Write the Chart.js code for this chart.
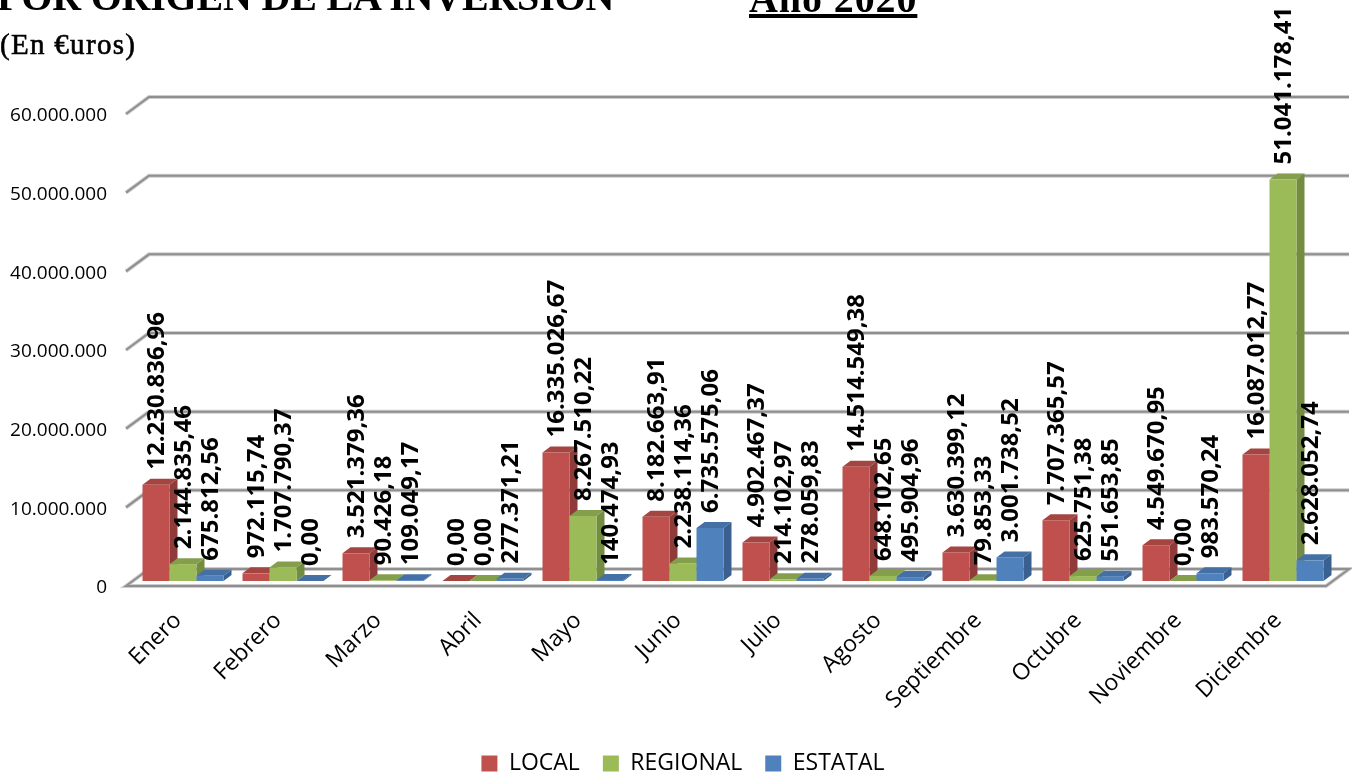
<!DOCTYPE html>
<html><head><meta charset="utf-8">
<style>
html,body{margin:0;padding:0;background:#fff;overflow:hidden;width:1352px;height:777px}
#wrap{position:relative;width:1352px;height:777px}
canvas{position:absolute;left:0;top:0}
.t{position:absolute;font-family:"Liberation Serif",serif;color:#000;white-space:nowrap;font-weight:bold}
</style>
<script src="https://cdn.jsdelivr.net/npm/chart.js@4/dist/chart.umd.min.js"></script>
</head><body>
<div id="wrap">
<canvas id="c" width="1352" height="777"></canvas>
<div class="t" id="t1" style="left:-3px;top:-27px;font-size:40px;letter-spacing:-.2px">POR ORIGEN DE LA INVERSIÓN</div>
<div class="t" id="t2" style="left:749px;top:-25px;font-size:40px;letter-spacing:.9px;text-decoration:underline">Año 2020</div>
<div class="t" id="t3" style="left:0;top:28px;font-size:29px;letter-spacing:1.3px;font-weight:normal;-webkit-text-stroke:.6px #000">(En €uros)</div>
</div>
<script>
const months = ["Enero","Febrero","Marzo","Abril","Mayo","Junio","Julio","Agosto","Septiembre","Octubre","Noviembre","Diciembre"];
const local = [12230836.96,972115.74,3521379.36,0,16335026.67,8182663.91,4902467.37,14514549.38,3630399.12,7707365.57,4549670.95,16087012.77];
const regional = [2144835.46,1707790.37,90426.18,0,8267510.22,2238114.36,214102.97,648102.65,79853.33,625751.38,0,51041178.41];
const estatal = [675812.56,0,109049.17,277371.21,140474.93,6735575.06,278059.83,495904.96,3001738.52,551653.85,983570.24,2628052.74];
const seriesNames = ["LOCAL","REGIONAL","ESTATAL"];
const fronts = ["#C0504D","#9BBB59","#4F81BD"];
const sides = ["#8F3B39","#728C41","#3A6090"];
const tops = ["#A54542","#839F4C","#4470A5"];

const BAR_DX = 8, BAR_DY = 6;
const FRONT_DX = -7, FRONT_DY = 5, BACK_DX = 16, BACK_DY = -12;
const GRID = "#8F8F8F", GRID_SOFT = "#CDCDCD";

function fmtInt(v){ return String(Math.round(v)).replace(/\B(?=(\d{3})+$)/g,"."); }
function fmtVal(v){ const p = v.toFixed(2).split("."); return p[0].replace(/\B(?=(\d{3})+$)/g,".") + "," + p[1]; }

const bars3d = {
  id:"bars3d",
  afterLayout(chart){
    chart.legend.left = 33;
    chart.legend.top = 729;
  },
  beforeDatasetDraw(){ return false; },
  afterDatasetsDraw(chart){
    const {ctx, chartArea:a, scales:{y}} = chart;
    const L=a.left, R=a.right;
    ctx.save();
    [[GRID_SOFT,4],[GRID,2]].forEach(([col,w])=>{
      ctx.lineWidth=w; ctx.strokeStyle=col;
      y.ticks.forEach(t=>{
        const p=y.getPixelForValue(t.value);
        ctx.beginPath();
        ctx.moveTo(L+FRONT_DX,p+FRONT_DY);
        ctx.lineTo(L+BACK_DX,p+BACK_DY);
        ctx.lineTo(R+BACK_DX,p+BACK_DY);
        if(t.value===0){
          ctx.lineTo(R+FRONT_DX,p+FRONT_DY);
          ctx.closePath();
        }
        ctx.stroke();
      });
    });
    chart.data.datasets.forEach((ds,i)=>{
      const meta=chart.getDatasetMeta(i);
      meta.data.forEach(b=>{
        const p=b.getProps(["x","y","base","width"],true);
        const l=p.x-p.width/2, r=p.x+p.width/2;
        ctx.fillStyle=tops[i];
        ctx.beginPath();
        ctx.moveTo(l,p.y);ctx.lineTo(l+BAR_DX,p.y-BAR_DY);ctx.lineTo(r+BAR_DX,p.y-BAR_DY);ctx.lineTo(r,p.y);ctx.closePath();ctx.fill();
        ctx.fillStyle=sides[i];
        ctx.beginPath();
        ctx.moveTo(r,p.y);ctx.lineTo(r+BAR_DX,p.y-BAR_DY);ctx.lineTo(r+BAR_DX,p.base-BAR_DY);ctx.lineTo(r,p.base);ctx.closePath();ctx.fill();
      });
      meta.controller.draw();
    });
    ctx.font='bold 24px "Open Sans"';
    ctx.fillStyle="#000";ctx.textAlign="left";ctx.textBaseline="middle";
    chart.data.datasets.forEach((ds,i)=>{
      chart.getDatasetMeta(i).data.forEach((b,j)=>{
        const p=b.getProps(["x","y"],true);
        ctx.save();
        ctx.translate(p.x,p.y-15);
        ctx.rotate(-Math.PI/2);
        ctx.fillText(fmtVal(ds.data[j]),0,1.5);
        ctx.restore();
      });
    });
    ctx.restore();
  }
};

new Chart(document.getElementById("c"),{
  type:"bar",
  data:{labels:months,datasets:[
    {label:seriesNames[0],data:local,backgroundColor:fronts[0]},
    {label:seriesNames[1],data:regional,backgroundColor:fronts[1]},
    {label:seriesNames[2],data:estatal,backgroundColor:fronts[2]}
  ]},
  options:{
    responsive:false,animation:false,
    layout:{padding:{left:0,right:19,top:109,bottom:0}},
    categoryPercentage:.81,barPercentage:1,
    plugins:{
      tooltip:{enabled:false},
      legend:{position:"bottom",
        labels:{boxWidth:16,boxHeight:16,padding:23,color:"#000",font:{family:'"Open Sans"',size:23}}}
    },
    scales:{
      x:{grid:{display:false},border:{display:false},
        afterFit(s){s.height=140;},
        ticks:{maxRotation:45,minRotation:45,padding:18,labelOffset:-5,color:"#000",font:{family:'"Open Sans"',size:23}}},
      y:{min:0,max:60000000,grid:{display:false},border:{display:false},
        afterFit(s){s.width=133;},
        ticks:{stepSize:10000000,padding:18,labelOffset:7,color:"#000",font:{family:'"Open Sans"',size:19},callback:v=>fmtInt(v)}}
    }
  },
  plugins:[bars3d]
});
</script>
</body></html>
